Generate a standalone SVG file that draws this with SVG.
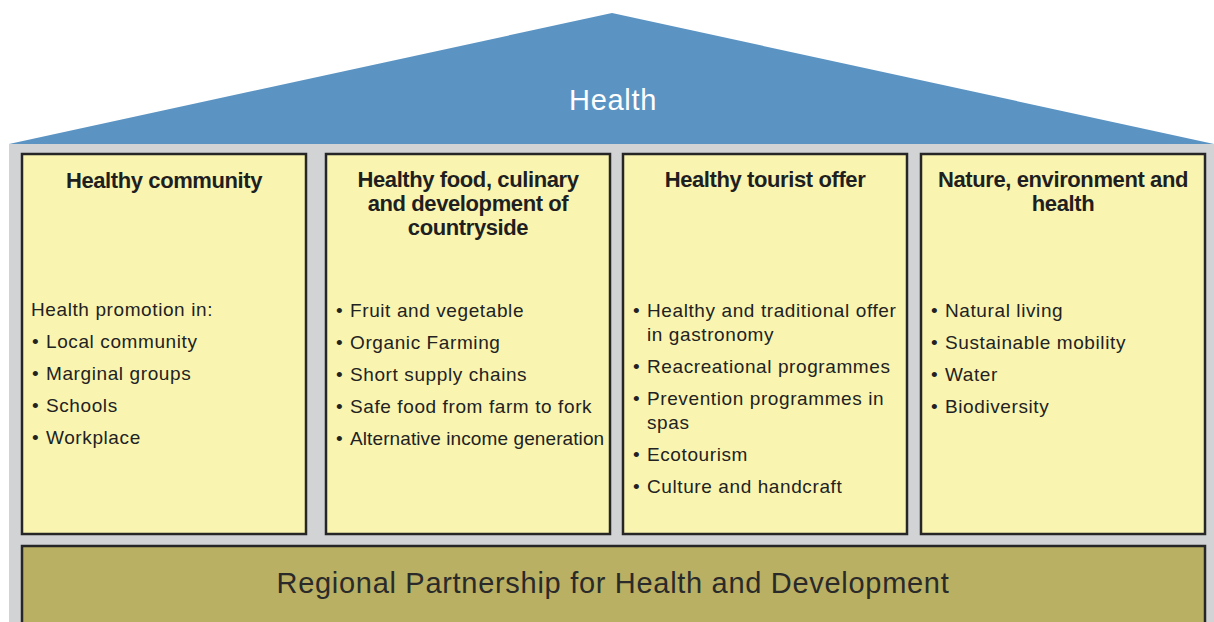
<svg xmlns="http://www.w3.org/2000/svg" width="1214" height="622" viewBox="0 0 1214 622">
  <style>
    .panel { fill: #d2d3d5; }
    .roof { fill: #5b94c3; }
    .pillar { fill: #f9f5b0; stroke: #262626; stroke-width: 2.5; }
    .base { fill: #bab063; stroke: #262626; stroke-width: 2.5; }
    .title { font-family: "Liberation Sans", Arial, sans-serif; font-weight: bold; font-size: 22px; fill: #1f1f1f; text-anchor: middle; letter-spacing: -0.4px; }
    .item { font-family: "Liberation Sans", Arial, sans-serif; font-size: 19px; fill: #222; letter-spacing: 0.6px; }
    .tight { letter-spacing: 0.1px; }
    .roof-label { font-family: "Liberation Sans", Arial, sans-serif; font-size: 29px; fill: #ffffff; text-anchor: middle; letter-spacing: 0.7px; }
    .base-label { font-family: "Liberation Sans", Arial, sans-serif; font-size: 29px; fill: #2a2a2a; text-anchor: middle; letter-spacing: 0.7px; }
  </style>

  <!-- grey body of the house -->
  <rect class="panel" x="9" y="144" width="1205" height="478"/>

  <!-- roof -->
  <g id="roof">
    <polygon class="roof" points="9,144 612,13 1214,144"/>
    <text class="roof-label" x="613" y="110">Health</text>
  </g>

  <!-- pillar 1 -->
  <g id="healthy-community">
    <rect class="pillar" x="22" y="154" width="284" height="380"/>
    <text class="title" x="164" y="188">Healthy community</text>
    <text class="item" x="31" y="316">Health promotion in:</text>
    <text class="item" x="32" y="348">•</text><text class="item" x="46" y="348">Local community</text>
    <text class="item" x="32" y="380">•</text><text class="item" x="46" y="380">Marginal groups</text>
    <text class="item" x="32" y="412">•</text><text class="item" x="46" y="412">Schools</text>
    <text class="item" x="32" y="444">•</text><text class="item" x="46" y="444">Workplace</text>
  </g>

  <!-- pillar 2 -->
  <g id="healthy-food">
    <rect class="pillar" x="326" y="154" width="284" height="380"/>
    <text class="title" x="468" y="187">Healthy food, culinary</text>
    <text class="title" x="468" y="211">and development of</text>
    <text class="title" x="468" y="235">countryside</text>
    <text class="item" x="336" y="317">•</text><text class="item" x="350" y="317">Fruit and vegetable</text>
    <text class="item" x="336" y="349">•</text><text class="item" x="350" y="349">Organic Farming</text>
    <text class="item" x="336" y="381">•</text><text class="item" x="350" y="381">Short supply chains</text>
    <text class="item" x="336" y="413">•</text><text class="item" x="350" y="413">Safe food from farm to fork</text>
    <text class="item" x="336" y="445">•</text><text class="item tight" x="350" y="445">Alternative income generation</text>
  </g>

  <!-- pillar 3 -->
  <g id="healthy-tourist-offer">
    <rect class="pillar" x="623" y="154" width="284" height="380"/>
    <text class="title" x="765" y="187">Healthy tourist offer</text>
    <text class="item" x="633" y="317">•</text><text class="item" x="647" y="317">Healthy and traditional offer</text>
    <text class="item" x="647" y="341">in gastronomy</text>
    <text class="item" x="633" y="373">•</text><text class="item" x="647" y="373">Reacreational programmes</text>
    <text class="item" x="633" y="405">•</text><text class="item" x="647" y="405">Prevention programmes in</text>
    <text class="item" x="647" y="429">spas</text>
    <text class="item" x="633" y="461">•</text><text class="item" x="647" y="461">Ecotourism</text>
    <text class="item" x="633" y="493">•</text><text class="item" x="647" y="493">Culture and handcraft</text>
  </g>

  <!-- pillar 4 -->
  <g id="nature-environment">
    <rect class="pillar" x="921" y="154" width="284" height="380"/>
    <text class="title" x="1063" y="187">Nature, environment and</text>
    <text class="title" x="1063" y="211">health</text>
    <text class="item" x="931" y="317">•</text><text class="item" x="945" y="317">Natural living</text>
    <text class="item" x="931" y="349">•</text><text class="item" x="945" y="349">Sustainable mobility</text>
    <text class="item" x="931" y="381">•</text><text class="item" x="945" y="381">Water</text>
    <text class="item" x="931" y="413">•</text><text class="item" x="945" y="413">Biodiversity</text>
  </g>

  <!-- foundation -->
  <g id="regional-partnership">
    <rect class="base" x="22" y="546" width="1183" height="90"/>
    <text class="base-label" x="613" y="593">Regional Partnership for Health and Development</text>
  </g>

  <g id="connectors"/>
</svg>
